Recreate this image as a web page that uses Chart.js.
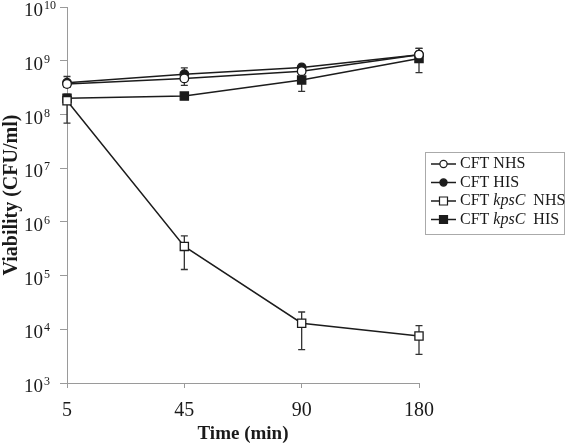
<!DOCTYPE html>
<html>
<head>
    <title>Viability</title>
    <meta charset="UTF-8">
    <script src="https://cdn.jsdelivr.net/npm/chart.js@4.4.1/dist/chart.umd.min.js"></script>
    <style>
        html, body { margin: 0; padding: 0; background: #fff; }
    </style>
</head>
<body>
    <canvas id="myChart" width="566" height="445"></canvas>
    <script>
        // time points (min)
        const times = ['5', '45', '90', '180'];
        const seriesNames = ['CFT NHS', 'CFT HIS', 'CFT kpsC NHS', 'CFT kpsC HIS'];

        // viability, CFU/ml
        const cftNhs = [3.7e8, 4.7e8, 6.4e8, 1.3e9];
        const cftHis = [3.9e8, 5.6e8, 7.5e8, 1.3e9];
        const kpsNhs = [1.8e8, 3.5e5, 1.3e4, 7.5e3];
        const kpsHis = [2.0e8, 2.2e8, 4.4e8, 1.1e9];

        // error bars (low / high)
        const cftNhsLow = [3.2e8, 3.5e8, 5.6e8, 1.1e9];
        const cftNhsHigh = [4.3e8, 5.5e8, 7.3e8, 1.5e9];
        const cftHisLow = [3.3e8, 4.8e8, 6.6e8, 1.1e9];
        const cftHisHigh = [5.1e8, 7.4e8, 8.6e8, 1.7e9];
        const kpsNhsLow = [6.9e7, 1.3e5, 4.2e3, 3.4e3];
        const kpsNhsHigh = [2.2e8, 5.5e5, 2.1e4, 1.17e4];
        const kpsHisLow = [1.7e8, 2.0e8, 2.7e8, 6.0e8];
        const kpsHisHigh = [2.4e8, 2.4e8, 7.2e8, 1.7e9];

        const yTicks = [1e3, 1e4, 1e5, 1e6, 1e7, 1e8, 1e9, 1e10];

        const errors = [
            [cftNhsLow, cftNhsHigh],
            [cftHisLow, cftHisHigh],
            [kpsNhsLow, kpsNhsHigh],
            [kpsHisLow, kpsHisHigh]
        ];

        const lineCol = '#1c1c1c';
        const axisCol = '#9a9a9a';
        const serif = "'Liberation Serif', 'Times New Roman', serif";

        function series(label, data, style, fill, radius) {
            return {
                label: label,
                data: data,
                borderColor: lineCol,
                borderWidth: 1.5,
                pointStyle: style,
                pointRadius: radius,
                pointBackgroundColor: fill,
                pointBorderColor: lineCol,
                pointBorderWidth: 1.3,
                fill: false,
                tension: 0,
                clip: false
            };
        }

        const errorBars = {
            id: 'errorBars',
            beforeDatasetsDraw(chart) {
                const ctx = chart.ctx;
                const xs = chart.scales.x, ys = chart.scales.y;
                ctx.save();
                ctx.strokeStyle = '#333';
                ctx.lineWidth = 1.3;
                errors.forEach(pair => {
                    pair[0].forEach((lo, j) => {
                        const px = xs.getPixelForValue(j);
                        const y1 = ys.getPixelForValue(lo);
                        const y2 = ys.getPixelForValue(pair[1][j]);
                        ctx.beginPath();
                        ctx.moveTo(px, y1); ctx.lineTo(px, y2);
                        ctx.moveTo(px - 3.5, y1); ctx.lineTo(px + 3.5, y1);
                        ctx.moveTo(px - 3.5, y2); ctx.lineTo(px + 3.5, y2);
                        ctx.stroke();
                    });
                });
                ctx.restore();
            }
        };

        // y tick labels as 10 with a raised exponent
        const powerLabels = {
            id: 'powerLabels',
            afterDraw(chart) {
                const ctx = chart.ctx;
                const ys = chart.scales.y;
                ctx.save();
                ctx.fillStyle = '#1a1a1a';
                ctx.textBaseline = 'alphabetic';
                yTicks.forEach(v => {
                    const py = ys.getPixelForValue(v);
                    const e = String(Math.round(Math.log10(v)));
                    ctx.font = '19px ' + serif;
                    ctx.textAlign = 'right';
                    ctx.fillText('10', 43, py + 9);
                    ctx.font = '12px ' + serif;
                    ctx.textAlign = 'left';
                    ctx.fillText(e, 44, py + 2);
                });
                ctx.restore();
            }
        };

        const boxLegend = {
            id: 'boxLegend',
            afterDraw(chart) {
                const ctx = chart.ctx;
                const left = 425, top = 152, right = 565, bottom = 234;
                ctx.save();
                ctx.strokeStyle = '#aaa';
                ctx.lineWidth = 1;
                ctx.strokeRect(left + 0.5, top + 0.5, right - left - 1, bottom - top);
                ctx.textBaseline = 'middle';
                chart.data.datasets.forEach((ds, i) => {
                    const y = 164 + i * 18.5;
                    ctx.strokeStyle = lineCol;
                    ctx.lineWidth = 1.5;
                    ctx.beginPath();
                    ctx.moveTo(431, y); ctx.lineTo(456, y);
                    ctx.stroke();
                    ctx.fillStyle = ds.pointBackgroundColor;
                    ctx.lineWidth = 1.2;
                    ctx.beginPath();
                    if (ds.pointStyle === 'circle') {
                        ctx.arc(443.5, y, 3.6, 0, Math.PI * 2);
                    } else {
                        ctx.rect(439.5, y - 4, 8, 8);
                    }
                    ctx.fill();
                    ctx.stroke();
                    // text, with kpsC in italics
                    ctx.fillStyle = '#1a1a1a';
                    let x = 460;
                    const parts = ds.label.split('kpsC');
                    if (parts.length === 2) {
                        ctx.font = '16px ' + serif;
                        ctx.fillText(parts[0], x, y);
                        x += ctx.measureText(parts[0]).width;
                        ctx.font = 'italic 16px ' + serif;
                        ctx.fillText('kpsC', x, y);
                        x += ctx.measureText('kpsC').width + 4;
                        ctx.font = '16px ' + serif;
                        ctx.fillText(parts[1], x, y);
                    } else {
                        ctx.font = '16px ' + serif;
                        ctx.fillText(ds.label, x, y);
                    }
                });
                ctx.restore();
            }
        };

        const ctx = document.getElementById('myChart').getContext('2d');
        const myChart = new Chart(ctx, {
            type: 'line',
            data: {
                labels: times,
                datasets: [
                    series(seriesNames[0], cftNhs, 'circle', '#fff', 4.3),
                    series(seriesNames[1], cftHis, 'circle', lineCol, 4.3),
                    series(seriesNames[2], kpsNhs, 'rect', '#fff', 5.8),
                    series(seriesNames[3], kpsHis, 'rect', lineCol, 5.8)
                ]
            },
            options: {
                responsive: false,
                animation: false,
                devicePixelRatio: 1,
                layout: { padding: { left: 0, right: 147, top: 4, bottom: 0 } },
                plugins: {
                    legend: { display: false },
                    tooltip: { enabled: false }
                },
                scales: {
                    x: {
                        type: 'category',
                        offset: false,
                        grid: { drawOnChartArea: false, color: axisCol, tickLength: 5 },
                        border: { color: axisCol, width: 1 },
                        ticks: { color: '#1a1a1a', font: { family: serif, size: 20 }, padding: 11, maxRotation: 0 },
                        title: { display: true, text: 'Time (min)', color: '#1a1a1a', font: { family: serif, size: 19, weight: 'bold' }, padding: { top: 0, bottom: 0 } },
                        afterFit(scale) { scale.height = 62; }
                    },
                    y: {
                        type: 'logarithmic',
                        min: 1e3,
                        max: 1e10,
                        afterBuildTicks(scale) { scale.ticks = yTicks.map(v => ({ value: v })); },
                        grid: { drawOnChartArea: false, color: axisCol, tickLength: 7 },
                        border: { color: axisCol, width: 1 },
                        ticks: { display: false },
                        title: { display: true, text: 'Viability (CFU/ml)', color: '#1a1a1a', font: { family: serif, size: 20, weight: 'bold' }, padding: { top: 0, bottom: 0 } },
                        afterFit(scale) {
                            scale.width = 67;
                            scale.paddingTop = 0;
                            scale.paddingBottom = 0;
                        }
                    }
                }
            },
            plugins: [errorBars, powerLabels, boxLegend]
        });
    </script>
</body>
</html>
